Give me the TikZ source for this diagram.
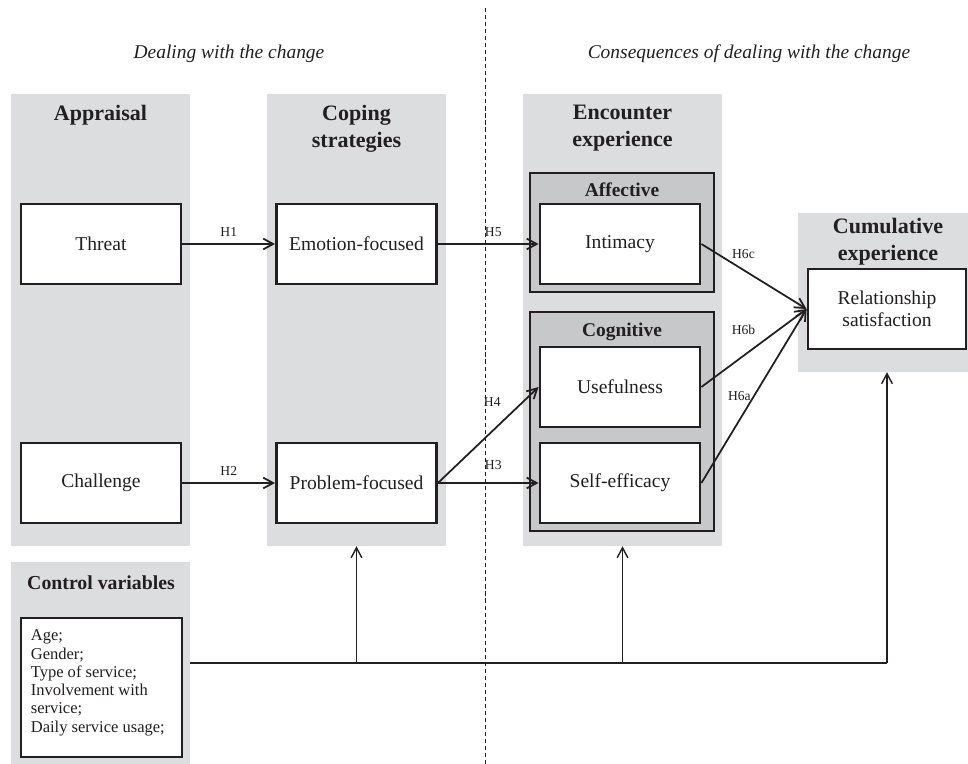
\documentclass[tikz,border=0pt]{standalone}
\usepackage{fontspec}
\setmainfont{Liberation Serif}
\usepackage{xcolor}
\usepackage{tikz}
\usetikzlibrary{arrows.meta,positioning}

\definecolor{panelgray}{RGB}{220,221,223}
\definecolor{groupgray}{RGB}{199,200,202}
\definecolor{ink}{RGB}{35,31,32}

\tikzset{
    panel/.style={fill=panelgray, inner sep=0pt},
    group/.style={fill=groupgray, draw=ink, line width=2.4pt, inner sep=0pt},
    varbox/.style={fill=white, draw=ink, line width=2.4pt, minimum width=4.8cm, minimum height=2.4cm,
                   inner sep=0pt, text=ink, align=center, font=\fontsize{16.7}{20}\selectfont},
    heading/.style={text=ink, align=center, inner sep=0pt, font=\fontsize{18.8}{23}\selectfont\bfseries},
    subheading/.style={text=ink, inner sep=0pt, font=\fontsize{16.6}{20}\selectfont\bfseries},
    phase/.style={text=ink, inner sep=0pt, font=\fontsize{16.6}{20}\selectfont\itshape},
    hyp/.style={text=ink, inner sep=2pt, font=\fontsize{11.6}{14}\selectfont},
    hypline/.style={->, draw=ink, line width=1.5pt},
    ctrlline/.style={draw=ink, line width=1.2pt},
    divider/.style={draw=ink, line width=0.8pt, dash pattern=on 3.5pt off 2.5pt},
    >={Straight Barb[length=3mm, width=3.2mm]}
}

\begin{document}
\begin{tikzpicture}[x=0.03cm, y=-0.03cm]
    \useasboundingbox (0,0) rectangle (968,764);

    % grey columns
    \node[panel, minimum width=5.37cm, minimum height=13.56cm] (appraisal) at (100.5,320) {};
    \node[panel, minimum width=5.37cm, minimum height=13.56cm] (coping) at (356.5,320) {};
    \node[panel, minimum width=5.97cm, minimum height=13.56cm] (encounter) at (622.5,320) {};
    \node[panel, minimum width=5.1cm, minimum height=4.77cm] (cumulative) at (883,292.5) {};
    \node[panel, minimum width=5.37cm, minimum height=6.06cm] (control) at (100.5,663) {};

    % split between the two phases
    \draw[divider] (485,8) -- (485,764);

    \node[phase] (dealing) at (229,54) {Dealing with the change};
    \node[phase] (consequences) at (749,54) {Consequences of dealing with the change};

    \node[heading] (appraisal-t) at (100.5,115) {Appraisal};
    \node[heading] (coping-t) at (356.5,128.5) {Coping\\strategies};
    \node[heading] (encounter-t) at (622.5,128.5) {Encounter\\experience};
    \node[heading] (cumulative-t) at (888,241.5) {Cumulative\\experience};
    \node[heading, font=\fontsize{16.9}{20}\selectfont\bfseries] (control-t) at (101,583) {Control variables};

    % affective / cognitive groups
    \node[group, minimum width=5.52cm, minimum height=3.57cm] (affective) at (622,232.5) {};
    \node[group, minimum width=5.52cm, minimum height=6.57cm] (cognitive) at (622,421.5) {};
    \node[subheading] (affective-t) at (622,190) {Affective};
    \node[subheading] (cognitive-t) at (622,332) {Cognitive};

    % variables
    \node[varbox] (threat) at (101,244) {Threat};
    \node[varbox] (challenge) at (101,483) {Challenge};
    \node[varbox] (emotion) at (356.5,244) {Emotion-focused};
    \node[varbox] (problem) at (356.5,483) {Problem-focused};
    \node[varbox] (intimacy) at (620,244) {Intimacy};
    \node[varbox] (usefulness) at (620,387) {Usefulness};
    \node[varbox] (selfefficacy) at (620,483) {Self-efficacy};
    \node[varbox, minimum width=4.74cm, font=\fontsize{16.7}{19}\selectfont] (satisfaction) at (887,309) {Relationship\\satisfaction};

    % control variables
    \node[varbox, minimum width=4.83cm, minimum height=4.17cm] (ctrlbox) at (101.5,687.5) {};
    \node[text=ink, align=left, inner sep=0pt, font=\fontsize{14.1}{15.6}\selectfont,
          below right=0.39cm and 0.33cm of ctrlbox.north west] (ctrllist)
          {Age;\\Gender;\\Type of service;\\Involvement with\\service;\\Daily service usage;};

    % hypotheses
    \draw[hypline] (threat) -- node[hyp, above=1.2mm] {H1} (emotion);
    \draw[hypline] (challenge) -- node[hyp, above=1.2mm] {H2} (problem);
    \draw[hypline] (emotion) -- node[hyp, pos=.55, above=1.2mm] {H5} (intimacy);
    \draw[hypline] (problem.east) -- node[hyp, pos=.55, above=3mm] {H3} (selfefficacy.west);
    \draw[hypline] (problem.east) -- node[hyp, pos=.54, above=6.3mm] {H4} (usefulness.west);
    \draw[hypline] (intimacy.east) -- node[hyp, pos=.4, above=2.4mm] {H6c} (satisfaction.west);
    \draw[hypline] (usefulness.east) -- node[hyp, pos=.4, above=5.4mm] {H6b} (satisfaction.west);
    \draw[hypline] (selfefficacy.east) -- node[hyp, pos=.5, left] {H6a} (satisfaction.west);

    % control links
    \draw[ctrlline] (control.east) -- (satisfaction.south |- control.east);
    \draw[ctrlline, ->] (coping.south |- control.east) -- (coping.south);
    \draw[ctrlline, ->] (encounter.south |- control.east) -- (encounter.south);
    \draw[ctrlline, ->] (satisfaction.south |- control.east) -- (satisfaction.south |- cumulative.south);
\end{tikzpicture}
\end{document}
